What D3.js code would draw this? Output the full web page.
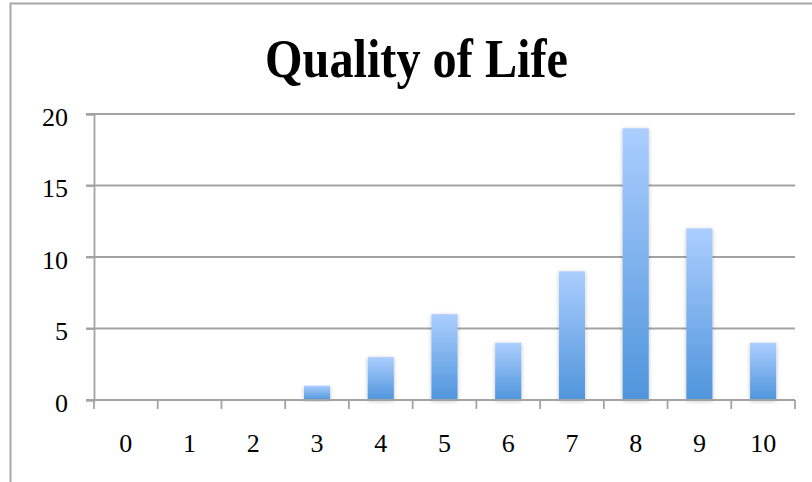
<!DOCTYPE html>
<html>
<head>
<meta charset="utf-8">
<script src="https://cdn.jsdelivr.net/npm/d3@7"></script>
<style>
  html, body { margin: 0; padding: 0; background: #fff; }
  svg { display: block; }
</style>
</head>
<body>
<svg id="chart" width="812" height="482"></svg>
<script>
// Ratings (0–10) and how many respondents gave each one
const categories = ["0", "1", "2", "3", "4", "5", "6", "7", "8", "9", "10"];
const counts = [0, 0, 0, 1, 3, 6, 4, 9, 19, 12, 4];
const yTicks = [0, 5, 10, 15, 20];
const title = "Quality of Life";

const svg = d3.select("#chart");
const margin = { left: 94, right: 17, top: 114, bottom: 82 };
const W = 812, H = 482;
const serif = "'Liberation Serif', 'DejaVu Serif', serif";

const x = d3.scaleBand()
  .domain(categories)
  .range([margin.left, W - margin.right])
  .paddingInner(0.59)
  .paddingOuter(0.295);

const xTickScale = d3.scaleLinear()
  .domain([0, categories.length])
  .range([margin.left, W - margin.right]);

const y = d3.scaleLinear()
  .domain([0, 20])
  .range([H - margin.bottom, margin.top]);

const defs = svg.append("defs");
const grad = defs.append("linearGradient")
  .attr("id", "barFill")
  .attr("x1", 0).attr("y1", 0).attr("x2", 0).attr("y2", 1);
grad.append("stop").attr("offset", "0%").attr("stop-color", "#abcefe");
grad.append("stop").attr("offset", "100%").attr("stop-color", "#4f95dc");

const shadow = defs.append("filter")
  .attr("id", "barShadow")
  .attr("x", "-30%").attr("y", "-10%").attr("width", "160%").attr("height", "120%");
shadow.append("feGaussianBlur").attr("in", "SourceAlpha").attr("stdDeviation", 2).attr("result", "b");
shadow.append("feOffset").attr("in", "b").attr("dx", 0).attr("dy", 1).attr("result", "o");
shadow.append("feComponentTransfer").attr("in", "o").attr("result", "s")
  .append("feFuncA").attr("type", "linear").attr("slope", 0.25);
const merge = shadow.append("feMerge");
merge.append("feMergeNode").attr("in", "s");
merge.append("feMergeNode").attr("in", "SourceGraphic");

// Chart frame
svg.append("rect")
  .attr("x", 10.5).attr("y", 3.5)
  .attr("width", 900).attr("height", 600)
  .attr("fill", "none")
  .attr("stroke", "#a8a8a8")
  .attr("stroke-width", 2);

// Title
svg.append("text")
  .attr("x", 416.5).attr("y", 77)
  .attr("text-anchor", "middle")
  .attr("font-family", serif)
  .attr("font-weight", "bold")
  .attr("font-size", 54)
  .attr("textLength", 303)
  .attr("lengthAdjust", "spacingAndGlyphs")
  .attr("fill", "#000")
  .text(title);

// Horizontal gridlines
svg.append("g")
  .selectAll("line")
  .data(yTicks.filter(d => d > 0))
  .join("line")
  .attr("x1", margin.left - 8).attr("x2", W - margin.right)
  .attr("y1", d => y(d)).attr("y2", d => y(d))
  .attr("stroke", "#a3a3a3")
  .attr("stroke-width", 1.8);

// Y axis
const yAxis = svg.append("g")
  .attr("transform", `translate(${margin.left},0)`)
  .call(d3.axisLeft(y).tickValues(yTicks).tickSize(8).tickPadding(18));
yAxis.select(".domain").attr("stroke", "#a3a3a3").attr("stroke-width", 1.8);
yAxis.selectAll(".tick line").attr("stroke", "#a3a3a3").attr("stroke-width", 1.8);
yAxis.selectAll(".tick text")
  .attr("font-family", serif)
  .attr("font-size", 26)
  .attr("fill", "#000")
  .attr("dy", "0.44em");

// Bars
svg.append("g")
  .selectAll("rect")
  .data(counts.map((v, i) => ({ c: categories[i], v })).filter(d => d.v > 0))
  .join("rect")
  .attr("x", d => x(d.c))
  .attr("width", x.bandwidth())
  .attr("y", d => y(d.v))
  .attr("height", d => y(0) - y(d.v))
  .attr("fill", "url(#barFill)")
  .attr("filter", "url(#barShadow)");

// X axis baseline and category ticks
const xAxisG = svg.append("g");
xAxisG.append("line")
  .attr("x1", margin.left - 8).attr("x2", W - margin.right)
  .attr("y1", y(0)).attr("y2", y(0))
  .attr("stroke", "#a3a3a3").attr("stroke-width", 1.8);
xAxisG.selectAll("line.tick")
  .data(d3.range(categories.length + 1))
  .join("line")
  .attr("class", "tick")
  .attr("x1", d => xTickScale(d)).attr("x2", d => xTickScale(d))
  .attr("y1", y(0)).attr("y2", y(0) + 9)
  .attr("stroke", "#a3a3a3").attr("stroke-width", 1.8);
xAxisG.selectAll("text")
  .data(categories)
  .join("text")
  .attr("x", d => x(d) + x.bandwidth() / 2)
  .attr("y", y(0) + 52)
  .attr("text-anchor", "middle")
  .attr("font-family", serif)
  .attr("font-size", 26)
  .attr("fill", "#000")
  .text(d => d);
</script>
</body>
</html>
